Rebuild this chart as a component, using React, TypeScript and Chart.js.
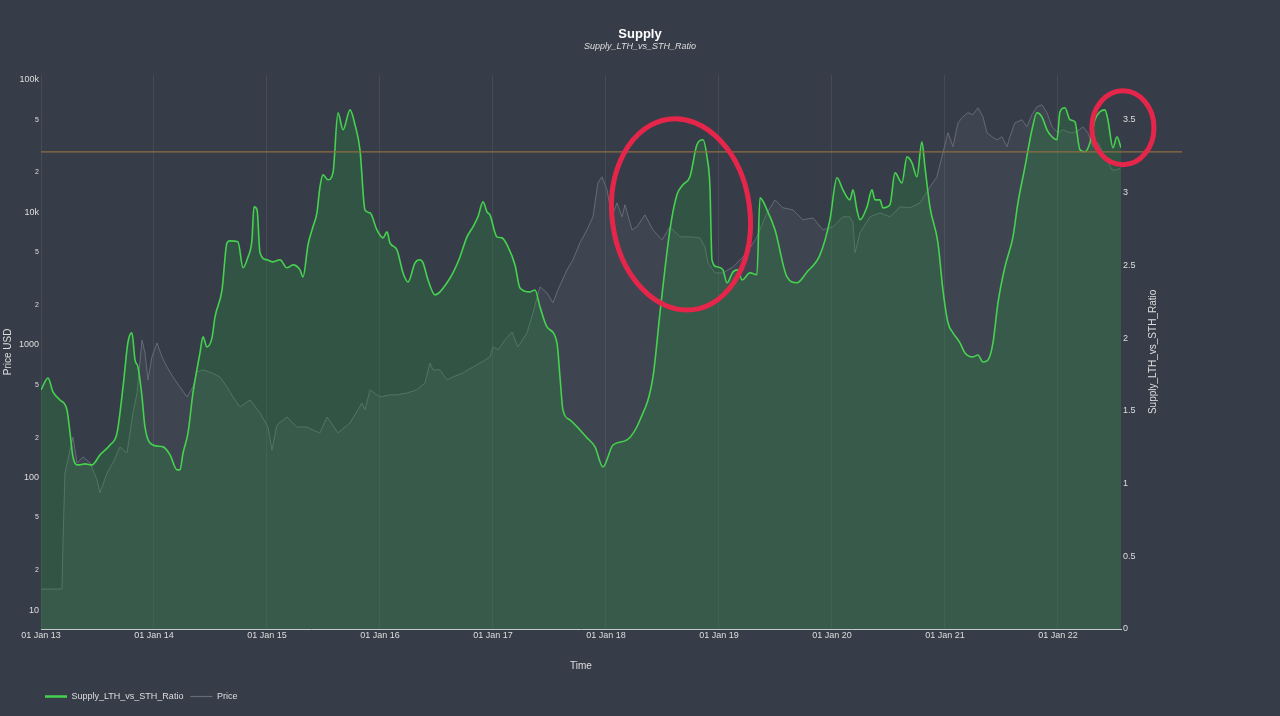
import React, { useEffect, useRef } from "react";
import { Chart, registerables } from "chart.js";

Chart.register(...registerables);

// ---------- data ----------
const ratioDates = [
  2013.000, 2013.062, 2013.106, 2013.168, 2013.230, 2013.257, 2013.283, 2013.327, 2013.389, 2013.451,
  2013.522, 2013.611, 2013.673, 2013.726, 2013.770, 2013.805, 2013.832, 2013.858, 2013.894, 2013.920,
  2013.991, 2014.080, 2014.142, 2014.204, 2014.230, 2014.257, 2014.301, 2014.345, 2014.407, 2014.434,
  2014.469, 2014.513, 2014.540, 2014.602, 2014.646, 2014.673, 2014.743, 2014.788, 2014.832, 2014.867,
  2014.885, 2014.912, 2014.938, 2015.000, 2015.053, 2015.115, 2015.177, 2015.230, 2015.292, 2015.319,
  2015.363, 2015.407, 2015.442, 2015.469, 2015.496, 2015.540, 2015.584, 2015.628, 2015.673, 2015.735,
  2015.779, 2015.823, 2015.867, 2015.912, 2015.973, 2016.027, 2016.062, 2016.088, 2016.150, 2016.204,
  2016.248, 2016.310, 2016.354, 2016.381, 2016.425, 2016.487, 2016.531, 2016.593, 2016.646, 2016.708,
  2016.770, 2016.823, 2016.867, 2016.912, 2016.947, 2016.973, 2017.035, 2017.080, 2017.133, 2017.195,
  2017.239, 2017.327, 2017.372, 2017.416, 2017.478, 2017.566, 2017.593, 2017.619, 2017.681, 2017.832,
  2017.903, 2017.973, 2018.062, 2018.186, 2018.301, 2018.416, 2018.478, 2018.566, 2018.628, 2018.681,
  2018.743, 2018.805, 2018.858, 2018.894, 2018.920, 2018.938, 2018.982, 2019.035, 2019.071, 2019.124,
  2019.168, 2019.204, 2019.274, 2019.336, 2019.363, 2019.425, 2019.496, 2019.602, 2019.690, 2019.779,
  2019.894, 2019.982, 2020.044, 2020.097, 2020.159, 2020.186, 2020.221, 2020.248, 2020.310, 2020.354,
  2020.381, 2020.425, 2020.451, 2020.513, 2020.558, 2020.619, 2020.664, 2020.708, 2020.752, 2020.796,
  2020.823, 2020.867, 2020.938, 2020.982, 2021.027, 2021.071, 2021.133, 2021.177, 2021.248, 2021.292,
  2021.336, 2021.381, 2021.425, 2021.469, 2021.531, 2021.602, 2021.646, 2021.708, 2021.770, 2021.814,
  2021.858, 2021.903, 2021.947, 2021.991, 2022.018, 2022.062, 2022.106, 2022.150, 2022.195, 2022.239,
  2022.283, 2022.327, 2022.372, 2022.416, 2022.442, 2022.487, 2022.522, 2022.558,
];
const ratioValues = [
  1.644, 1.726, 1.630, 1.575, 1.506, 1.348, 1.183, 1.128, 1.135, 1.128,
  1.197, 1.265, 1.348, 1.664, 1.974, 2.036, 1.850, 1.802, 1.596, 1.389,
  1.265, 1.252, 1.197, 1.094, 1.094, 1.210, 1.348, 1.623, 1.898, 2.008,
  1.939, 2.001, 2.146, 2.331, 2.655, 2.668, 2.662, 2.483, 2.558, 2.675,
  2.902, 2.882, 2.586, 2.538, 2.524, 2.538, 2.483, 2.503, 2.469, 2.421,
  2.641, 2.765, 2.861, 3.040, 3.122, 3.088, 3.136, 3.549, 3.432, 3.569,
  3.466, 3.294, 2.882, 2.861, 2.744, 2.689, 2.730, 2.655, 2.607, 2.448,
  2.386, 2.517, 2.538, 2.517, 2.400, 2.297, 2.318, 2.380, 2.448, 2.558,
  2.696, 2.765, 2.834, 2.937, 2.868, 2.847, 2.696, 2.689, 2.627, 2.503,
  2.345, 2.318, 2.331, 2.215, 2.077, 1.967, 1.733, 1.506, 1.437, 1.314,
  1.252, 1.114, 1.265, 1.300, 1.437, 1.733, 2.173, 2.744, 2.985, 3.054,
  3.109, 3.329, 3.363, 3.246, 3.040, 2.538, 2.490, 2.469, 2.380, 2.455,
  2.469, 2.400, 2.448, 2.435, 2.964, 2.882, 2.744, 2.421, 2.380, 2.455,
  2.572, 2.813, 3.102, 3.019, 2.950, 3.019, 2.882, 2.813, 2.902, 3.019,
  2.950, 2.950, 2.895, 2.916, 3.136, 3.067, 3.246, 3.205, 3.109, 3.349,
  3.177, 2.902, 2.655, 2.331, 2.105, 2.036, 1.967, 1.898, 1.871, 1.884,
  1.836, 1.850, 1.967, 2.242, 2.490, 2.696, 2.930, 3.177, 3.432, 3.549,
  3.521, 3.432, 3.384, 3.363, 3.556, 3.583, 3.501, 3.487, 3.294, 3.281,
  3.343, 3.501, 3.556, 3.569, 3.501, 3.308, 3.384, 3.308,
];

const priceDates = [
  2013.000, 2013.186, 2013.195, 2013.212, 2013.257, 2013.283, 2013.319, 2013.372, 2013.434, 2013.496,
  2013.522, 2013.584, 2013.637, 2013.699, 2013.761, 2013.814, 2013.850, 2013.894, 2013.920, 2013.947,
  2013.982, 2014.027, 2014.071, 2014.115, 2014.168, 2014.230, 2014.292, 2014.345, 2014.381, 2014.434,
  2014.513, 2014.584, 2014.646, 2014.699, 2014.761, 2014.850, 2014.938, 2015.009, 2015.044, 2015.088,
  2015.177, 2015.265, 2015.354, 2015.407, 2015.469, 2015.531, 2015.628, 2015.735, 2015.841, 2015.867,
  2015.912, 2016.000, 2016.088, 2016.150, 2016.239, 2016.327, 2016.398, 2016.442, 2016.469, 2016.531,
  2016.593, 2016.646, 2016.735, 2016.823, 2016.903, 2016.973, 2017.000, 2017.044, 2017.106, 2017.168,
  2017.221, 2017.301, 2017.354, 2017.416, 2017.478, 2017.531, 2017.575, 2017.655, 2017.708, 2017.770,
  2017.832, 2017.885, 2017.929, 2017.965, 2018.009, 2018.053, 2018.097, 2018.142, 2018.168, 2018.230,
  2018.274, 2018.345, 2018.416, 2018.496, 2018.566, 2018.655, 2018.743, 2018.832, 2018.876, 2018.903,
  2018.965, 2019.035, 2019.124, 2019.248, 2019.336, 2019.425, 2019.496, 2019.566, 2019.655, 2019.743,
  2019.832, 2019.920, 2020.009, 2020.097, 2020.159, 2020.186, 2020.204, 2020.248, 2020.336, 2020.425,
  2020.513, 2020.602, 2020.690, 2020.779, 2020.867, 2020.929, 2020.982, 2021.027, 2021.071, 2021.115,
  2021.159, 2021.204, 2021.248, 2021.292, 2021.336, 2021.372, 2021.416, 2021.460, 2021.504, 2021.549,
  2021.575, 2021.619, 2021.681, 2021.726, 2021.770, 2021.814, 2021.858, 2021.903, 2021.947, 2022.000,
  2022.044, 2022.106, 2022.168, 2022.221, 2022.265, 2022.310, 2022.354, 2022.398, 2022.442, 2022.478,
  2022.522, 2022.558,
];
const priceValues = [
  14.4, 14.4, 33.7, 108, 161, 202, 129, 143, 129, 95.8,
  76.4, 108, 129, 170, 153, 307, 434, 1090, 871, 544,
  812, 1035, 812, 682, 573, 482, 405, 482, 626, 648,
  615, 573, 482, 405, 340, 385, 307, 240, 161, 249,
  286, 240, 240, 228, 217, 286, 217, 258, 365, 323,
  458, 405, 420, 420, 434, 458, 517, 731, 648, 648,
  544, 573, 615, 682, 744, 812, 966, 917, 1090, 1253,
  966, 1232, 1744, 2740, 2468, 2075, 2600, 3680, 4385, 5890,
  7380, 9250, 16700, 18530, 14790, 9250, 11800, 9250, 11400, 7380,
  7780, 9570, 7380, 6200, 7780, 6530, 6530, 6420, 5490, 4155,
  3490, 3490, 3880, 4950, 6530, 9910, 12420, 10820, 10440, 8780,
  9080, 7380, 7780, 9250, 9250, 8330, 4950, 7000, 9250, 9910,
  9250, 11010, 10820, 11800, 15570, 18530, 28100, 39800, 31200, 47300,
  52600, 56400, 54500, 61500, 52600, 39800, 37200, 35200, 37200, 31200,
  37200, 47300, 49900, 44200, 54500, 62500, 64700, 56400, 44200, 39800,
  42000, 39800, 40500, 44200, 39800, 31200, 33500, 28100, 24000, 20900,
  20900, 21700,
];

const yearTicks = [2013, 2014, 2015, 2016, 2017, 2018, 2019, 2020, 2021, 2022];
const yearTickLabels = ["01 Jan 13", "01 Jan 14", "01 Jan 15", "01 Jan 16", "01 Jan 17", "01 Jan 18", "01 Jan 19", "01 Jan 20", "01 Jan 21", "01 Jan 22"];
const priceTicks = [10, 20, 50, 100, 200, 500, 1000, 2000, 5000, 10000, 20000, 50000, 100000];
const priceTickLabels = ["10", "2", "5", "100", "2", "5", "1000", "2", "5", "10k", "2", "5", "100k"];
const priceMajorTicks = [10, 100, 1000, 10000, 100000];
const ratioTicks = [0, 0.5, 1, 1.5, 2, 2.5, 3, 3.5];
const ratioTickLabels = ["0", "0.5", "1", "1.5", "2", "2.5", "3", "3.5"];
const thresholdRatio = 3.28;
// hand-drawn red circles of the reference, in data units (years / ratio)
const circleCentersX = [2018.664, 2022.575];
const circleCentersY = [2.85, 3.446];
const circleRadiiX = [0.61, 0.275];
const circleRadiiY = [0.66, 0.254];
const circleTilts = [-0.13, 0];

const FONT = "'Liberation Sans', Arial, Helvetica, sans-serif";
const BG = "#373d48";
const TEXT = "#dedede";

export default function App() {
  const canvasRef = useRef<HTMLCanvasElement | null>(null);

  useEffect(() => {
    document.body.style.margin = "0";
    document.body.style.background = BG;
    const canvas = canvasRef.current;
    if (!canvas) return;

    const overlay = {
      id: "overlay",
      afterLayout(chart: any) {
        if (chart.legend) chart.legend.left = 38;
      },
      afterDatasetsDraw(chart: any) {
        const { ctx, chartArea, scales } = chart;
        const x = scales.x;
        const yR = scales.yR;
        ctx.save();
        const yLine = yR.getPixelForValue(thresholdRatio);
        ctx.strokeStyle = "#8d6e40";
        ctx.lineWidth = 1.3;
        ctx.beginPath();
        ctx.moveTo(chartArea.left, yLine);
        ctx.lineTo(chartArea.right + 61, yLine);
        ctx.stroke();

        ctx.strokeStyle = "#e5264a";
        ctx.lineWidth = 5;
        for (let i = 0; i < circleCentersX.length; i++) {
          const cx = x.getPixelForValue(circleCentersX[i]);
          const cy = yR.getPixelForValue(circleCentersY[i]);
          const rx = Math.abs(x.getPixelForValue(circleCentersX[i] + circleRadiiX[i]) - cx);
          const ry = Math.abs(yR.getPixelForValue(circleCentersY[i] + circleRadiiY[i]) - cy);
          ctx.beginPath();
          ctx.ellipse(cx, cy, rx, ry, circleTilts[i], 0, Math.PI * 2);
          ctx.stroke();
        }
        ctx.restore();
      },
      afterDraw(chart: any) {
        const { ctx, chartArea, scales } = chart;
        const yR = scales.yR;
        ctx.save();
        ctx.translate(yR.left + 32, (chartArea.top + chartArea.bottom) / 2);
        ctx.rotate(-Math.PI / 2);
        ctx.fillStyle = TEXT;
        ctx.font = `10px ${FONT}`;
        ctx.textAlign = "center";
        ctx.textBaseline = "middle";
        ctx.fillText("Supply_LTH_vs_STH_Ratio", 0, 0);
        ctx.restore();
      },
    };

    const chart = new Chart(canvas, {
      type: "line",
      data: {
        datasets: [
          {
            label: "Supply_LTH_vs_STH_Ratio",
            data: ratioDates.map((d, i) => ({ x: d, y: ratioValues[i] })),
            yAxisID: "yR",
            borderColor: "#45d24f",
            borderWidth: 1.6,
            backgroundColor: "rgba(40,140,60,0.30)",
            fill: "origin",
            pointRadius: 0,
            cubicInterpolationMode: "monotone",
          },
          {
            label: "Price",
            data: priceDates.map((d, i) => ({ x: d, y: priceValues[i] })),
            yAxisID: "yP",
            borderColor: "#656b77",
            borderWidth: 1,
            backgroundColor: "rgba(200,205,215,0.06)",
            fill: "start",
            pointRadius: 0,
            tension: 0,
          },
        ],
      },
      options: {
        animation: false,
        responsive: true,
        maintainAspectRatio: false,
        layout: { padding: { left: 0, right: 0, top: 0, bottom: 5 } },
        font: { family: FONT },
        scales: {
          x: {
            type: "linear",
            min: 2013,
            max: 2022.558,
            afterBuildTicks: (scale: any) => {
              scale.ticks = yearTicks.map((v) => ({ value: v }));
            },
            afterFit: (scale: any) => {
              scale.height = 56;
            },
            ticks: {
              color: TEXT,
              font: { size: 9, family: FONT },
              padding: 1,
              maxRotation: 0,
              autoSkip: false,
              callback: (_v: any, i: number) => yearTickLabels[i],
            },
            grid: { color: "rgba(255,255,255,0.07)", drawTicks: false },
            border: { display: true, color: "#c9c9c9", width: 1 },
            title: {
              display: true,
              text: "Time",
              color: TEXT,
              font: { size: 10, family: FONT },
              padding: { top: 0, bottom: 13 },
            },
          },
          yP: {
            type: "logarithmic",
            position: "left",
            min: 7.2,
            max: 109000,
            afterBuildTicks: (scale: any) => {
              scale.ticks = priceTicks.map((v) => ({ value: v }));
            },
            afterFit: (scale: any) => {
              scale.width = 41;
            },
            ticks: {
              color: TEXT,
              padding: 2,
              autoSkip: false,
              font: (ctx: any) => ({
                size: ctx.tick && priceMajorTicks.includes(ctx.tick.value) ? 9 : 7,
                family: FONT,
              }),
              callback: (_v: any, i: number) => priceTickLabels[i],
            },
            grid: { display: false, drawTicks: false },
            border: { display: false },
            title: {
              display: true,
              text: "Price USD",
              color: TEXT,
              font: { size: 10, family: FONT },
              padding: { top: 2, bottom: 0 },
            },
          },
          yR: {
            type: "linear",
            position: "right",
            min: 0,
            max: 3.81,
            afterBuildTicks: (scale: any) => {
              scale.ticks = ratioTicks.map((v) => ({ value: v }));
            },
            afterFit: (scale: any) => {
              scale.width = 159;
            },
            ticks: {
              color: TEXT,
              padding: 2,
              autoSkip: false,
              font: { size: 9, family: FONT },
              callback: (_v: any, i: number) => ratioTickLabels[i],
            },
            grid: { display: false, drawTicks: false },
            border: { display: false },
          },
        },
        plugins: {
          title: {
            display: true,
            text: "Supply",
            color: "#ffffff",
            font: { size: 13, weight: "bold", family: FONT, lineHeight: 1 },
            padding: { top: 28, bottom: 0 },
          },
          subtitle: {
            display: true,
            text: "Supply_LTH_vs_STH_Ratio",
            color: TEXT,
            font: { size: 9, style: "italic", family: FONT },
            padding: { top: 0, bottom: 23 },
          },
          legend: {
            display: true,
            position: "bottom",
            align: "start",
            labels: {
              usePointStyle: true,
              pointStyle: "line",
              pointStyleWidth: 22,
              color: TEXT,
              font: { size: 9, family: FONT },
              padding: 7,
              generateLabels: (chart: any) =>
                (Chart.defaults.plugins.legend.labels as any)
                  .generateLabels(chart)
                  .map((l: any, i: number) => ({ ...l, lineWidth: i === 0 ? 2.5 : 1.2 })),
            },
          },
          tooltip: { enabled: false },
        },
      } as any,
      plugins: [overlay],
    });

    return () => chart.destroy();
  }, []);

  return (
    <div
      style={{
        position: "fixed",
        left: 0,
        top: 0,
        width: "1280px",
        height: "716px",
        background: BG,
      }}
    >
      <canvas ref={canvasRef} />
    </div>
  );
}
